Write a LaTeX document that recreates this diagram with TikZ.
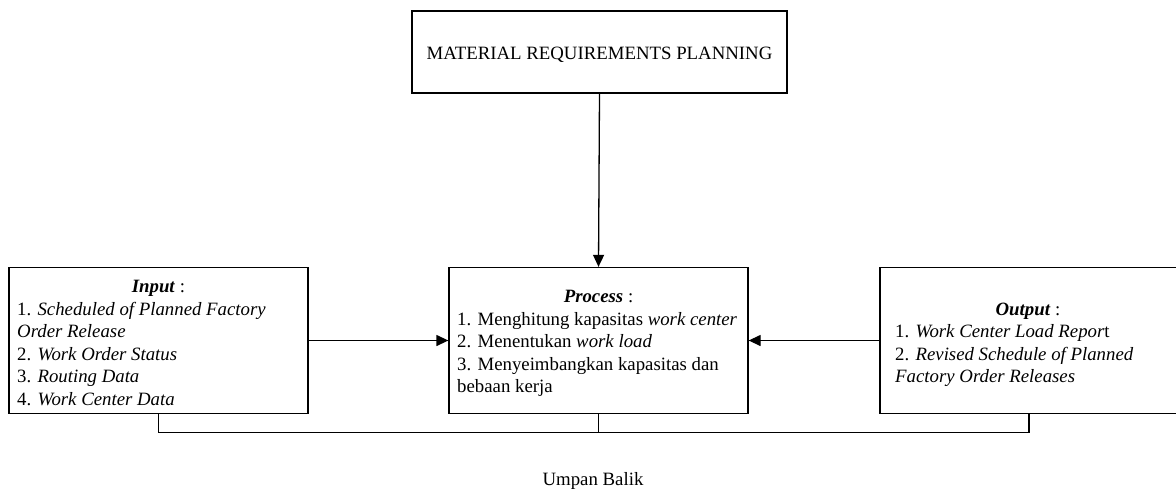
\documentclass[tikz,border=0pt]{standalone}
\usepackage{fontspec}
\setmainfont{Liberation Serif}
\usetikzlibrary{arrows.meta}
\begin{document}
\begin{tikzpicture}[x=1pt,y=-1pt,
  box/.style={draw, line width=1.3pt, inner sep=0pt, rectangle},
  txt/.style={inner sep=0pt, font=\fontsize{18.8}{22.5}\selectfont},
  ln/.style={txt, anchor=base west},
  ttl/.style={txt, anchor=base},
  conn/.style={line width=1.3pt},
  arr/.style={conn, -{Triangle[length=12pt,width=11pt]}}]
\useasboundingbox (0,0) rectangle (1176,488);

% boxes
\node[box, minimum width=375, minimum height=82] (mrp) at (599.5,52) {};
\node[box, minimum width=299, minimum height=146] (in) at (158.5,340.5) {};
\node[box, minimum width=299, minimum height=146] (proc) at (598.5,340.5) {};
\node[box, minimum width=298, minimum height=146] (out) at (1029,340.5) {};

% MRP text
\node[ttl] (mrpT) at (599.5,59.5) {MATERIAL REQUIREMENTS PLANNING};

% Input text
\node[ttl] (inT) at (158.5,292) {\textbf{\textit{Input}} :};
\node[ln] (in1) at (17,315) {1. \textit{Scheduled of Planned Factory}};
\node[ln] (in2) at (17,337.5) {\textit{Order Release}};
\node[ln] (in3) at (17,360) {2. \textit{Work Order Status}};
\node[ln] (in4) at (17,382.5) {3. \textit{Routing Data}};
\node[ln] (in5) at (17,405) {4. \textit{Work Center Data}};

% Process text
\node[ttl] (prT) at (598.5,302) {\textbf{\textit{Process}} :};
\node[ln] (pr1) at (457,325) {1. Menghitung kapasitas \textit{work center}};
\node[ln] (pr2) at (457,347.5) {2. Menentukan \textit{work load}};
\node[ln] (pr3) at (457,370) {3. Menyeimbangkan kapasitas dan};
\node[ln] (pr4) at (457,392.5) {bebaan kerja};

% Output text
\node[ttl] (ouT) at (1028,315) {\textbf{\textit{Output}} :};
\node[ln] (ou1) at (895,337.5) {1. \textit{Work Center Load Repor}t};
\node[ln] (ou2) at (895,360) {2. \textit{Revised Schedule of Planned}};
\node[ln] (ou3) at (895,382.5) {\textit{Factory Order Releases}};

% connectors
\draw[arr] (mrp.south) -- (proc.north);
\draw[arr] (in.east) -- (proc.west);
\draw[arr] (out.west) -- (proc.east);

% feedback
\draw[conn] (in.south) -- ++(0,18) -| (out.south);
\draw[conn] (proc.south) -- ++(0,18);
\node[ttl] (fb) at (593,485) {Umpan Balik};
\end{tikzpicture}
\end{document}
